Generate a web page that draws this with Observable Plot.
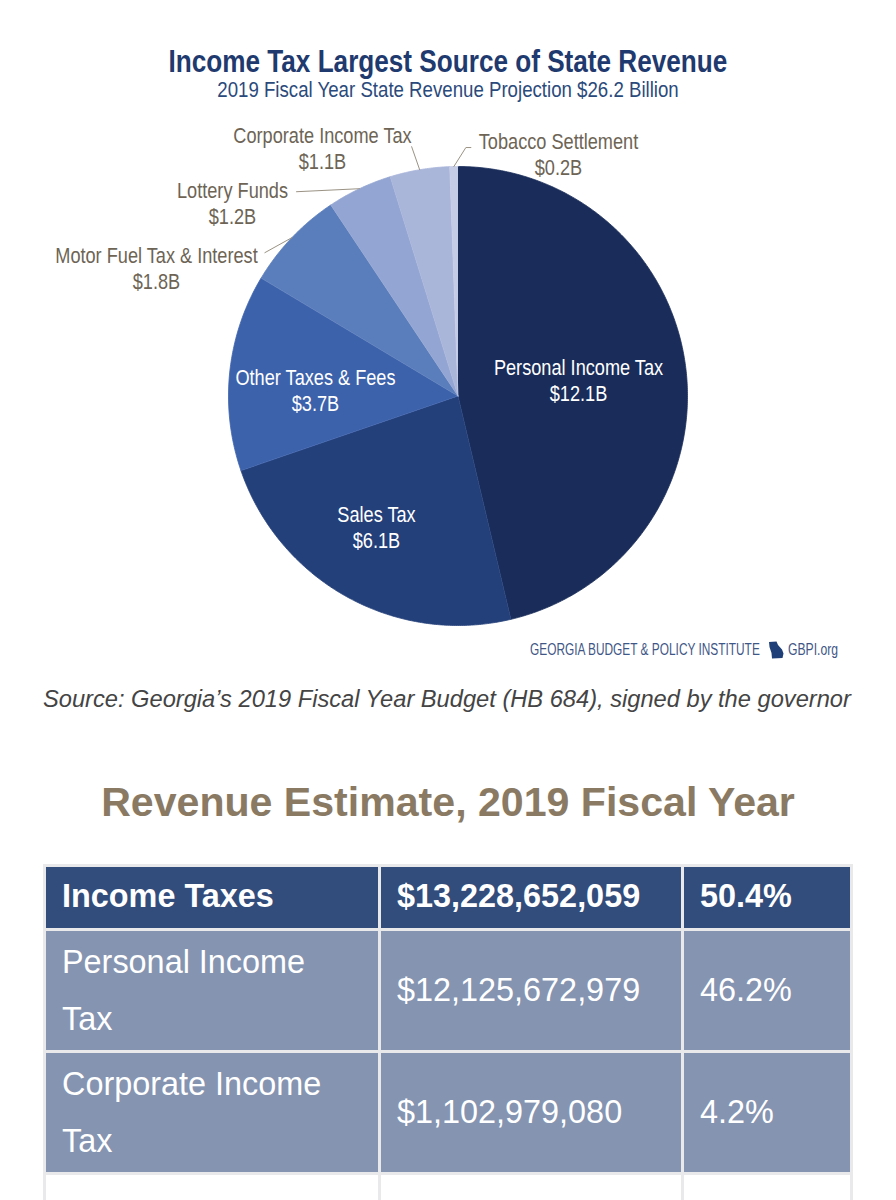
<!DOCTYPE html>
<html><head><meta charset="utf-8">
<script src="https://cdn.jsdelivr.net/npm/d3@7"></script>
<script src="https://cdn.jsdelivr.net/npm/@observablehq/plot@0.6"></script>
<style>
html,body{margin:0;padding:0;background:#fff;width:896px;height:1200px;overflow:hidden}
body{position:relative;font-family:"Liberation Sans",Arial,sans-serif}
.abs{position:absolute;white-space:nowrap}
#title{left:0;width:896px;top:42px;text-align:center;font-weight:700;font-size:32px;line-height:38px;color:#1f3a6e;transform:scaleX(.817);transform-origin:447.5px 50%}
#subtitle{left:0;width:896px;top:77px;text-align:center;font-size:22.5px;line-height:26px;color:#2b4a7c;transform:scaleX(.829);transform-origin:448px 50%}
#chart{position:absolute;left:0;top:105px}
#credit{left:530px;top:640px;font-size:16px;line-height:20px;color:#3f5787;transform:scaleX(.742);transform-origin:0 50%}
#credit2{left:788px;top:640px;font-size:16px;line-height:20px;color:#3f5787;transform:scaleX(.76);transform-origin:0 50%}
#state{position:absolute;left:768px;top:641px}
#source{left:43px;top:685px;font-style:italic;font-size:23.66px;line-height:28px;color:#444}
#heading{left:0;width:896px;top:778px;text-align:center;font-weight:700;font-size:41.1px;line-height:48px;color:#8a7a63}
table{position:absolute;left:43px;top:864px;width:807px;border-collapse:collapse;table-layout:fixed;color:#fff;font-size:32.4px;line-height:56px}
td{border:3px solid #e9e9ec;padding:0 0 0 16px;vertical-align:middle;background:#8594b1;white-space:nowrap}
tr.head td{background:#324d7c;font-weight:700;height:61px;line-height:36px;padding-bottom:0}
tr.head td span{position:relative;top:-2px}
tr.item td{height:119px;line-height:56.5px}
tr.blank td{background:#fff;height:60px}
</style></head><body>
<div id="title" class="abs">Income Tax Largest Source of State Revenue</div>
<div id="subtitle" class="abs">2019 Fiscal Year State Revenue Projection $26.2 Billion</div>
<div id="chart"></div>
<div id="credit" class="abs">GEORGIA BUDGET &amp; POLICY INSTITUTE</div>
<svg id="state" width="16" height="18" viewBox="0 0 16 18"><path d="M1 1 L8.5 .5 L10 4 L14 8.5 L15.5 12.5 L14.5 17 L4 17.5 L3.5 12 L1.5 6 Z" fill="#1f3f78"/></svg>
<div id="credit2" class="abs">GBPI.org</div>
<div id="source" class="abs">Source: Georgia’s 2019 Fiscal Year Budget (HB 684), signed by the governor</div>
<div id="heading" class="abs">Revenue Estimate, 2019 Fiscal Year</div>
<table id="tbl"><colgroup><col style="width:335px"><col style="width:303px"><col style="width:169px"></colgroup><tbody></tbody></table>
<script>
// Chart data (slice sizes; labels as printed)
const sources = ["Personal Income Tax","Sales Tax","Other Taxes & Fees","Motor Fuel Tax & Interest","Lottery Funds","Corporate Income Tax","Tobacco Settlement"];
const billions = [12.13,6.14,3.63,1.85,1.2,1.1,0.15];
const printed = ["$12.1B","$6.1B","$3.7B","$1.8B","$1.2B","$1.1B","$0.2B"];
const sliceColors = ["#1a2d5a","#24407a","#3d62ac","#5a7dbb","#93a5d2","#aab5da","#c5cce6"];

// Table data
const rowNames = ["Income Taxes","Personal Income<br>Tax","Corporate Income<br>Tax"];
const rowAmounts = ["$13,228,652,059","$12,125,672,979","$1,102,979,080"];
const rowShares = ["50.4%","46.2%","4.2%"];

// Layout (pixels, relative to the pie centre / a slice's rim midpoint)
const W = 896, H = 540, R = 229.5, CX = 457.5, CY = 290.5;
const labelOffsets = {
  "Personal Income Tax":[120.5,-16.5],
  "Sales Tax":[-81.5,131],
  "Other Taxes & Fees":[-142.5,-6.5],
  "Motor Fuel Tax & Interest":[-301.5,-128.5],
  "Lottery Funds":[-225.5,-193.5],
  "Corporate Income Tax":[-135.5,-248.5],
  "Tobacco Settlement":[100.5,-242.5]
};
const leaders = {
  "Motor Fuel Tax & Interest":[[-27,15]],
  "Lottery Funds":[[-63,3]],
  "Corporate Income Tax":[[-8,-23]],
  "Tobacco Settlement":[[12,-19],[17,-19]]
};

const arcs = d3.pie().sort(null).value((d,i)=>billions[i])(sources);
const slicePoints = arcs.flatMap(a=>{
  const name = a.data;
  const pts = [{name,x:0,y:0}];
  const steps = Math.max(2,Math.ceil((a.endAngle-a.startAngle)/(Math.PI/360)));
  for(let i=0;i<=steps;i++){
    const t = a.startAngle+(a.endAngle-a.startAngle)*i/steps;
    pts.push({name,x:Math.sin(t),y:Math.cos(t)});
  }
  return pts;
});
const rim = Object.fromEntries(arcs.map(a=>{
  const t=(a.startAngle+a.endAngle)/2;
  return [a.data,{x:Math.sin(t),y:Math.cos(t)}];
}));
const leaderPoints = Object.entries(leaders).flatMap(([name,off])=>[
  {name,x:rim[name].x,y:rim[name].y},
  ...off.map(([dx,dy])=>({name,x:rim[name].x+dx/R,y:rim[name].y-dy/R}))
]);
const labels = sources.map((name,i)=>({
  name,
  text:`${name}\n${printed[i]}`,
  x:labelOffsets[name][0]/R,
  y:-labelOffsets[name][1]/R,
  inside:i<3
}));

const chart = Plot.plot({
  width:W,height:H,margin:0,
  style:{background:"transparent",fontFamily:'"Liberation Sans",sans-serif'},
  x:{domain:[-CX/R,(W-CX)/R],range:[0,W],axis:null},
  y:{domain:[-(H-CY)/R,CY/R],range:[H,0],axis:null},
  color:{domain:sources,range:sliceColors},
  marks:[
    Plot.line(slicePoints,{x:"x",y:"y",z:"name",fill:"name",stroke:"name",strokeWidth:.8}),
    Plot.line(leaderPoints,{x:"x",y:"y",z:"name",stroke:"#9a9284",strokeWidth:1}),
    Plot.text(labels.filter(d=>d.inside),{x:"x",y:"y",text:"text",fill:"#fff",fontSize:22,lineHeight:1.165,textAnchor:"middle"}),
    Plot.text(labels.filter(d=>!d.inside),{x:"x",y:"y",text:"text",fill:"#6d6455",fontSize:22,lineHeight:1.165,textAnchor:"middle"})
  ]
});
// The reference's labels are set in a condensed face: narrow the installed one.
d3.select(chart).selectAll("text").attr("transform",function(){return this.getAttribute("transform")+" scale(.826,1)";});
document.getElementById("chart").append(chart);

const tbody = d3.select("#tbl tbody");
rowNames.forEach((n,i)=>{
  const tr = tbody.append("tr").attr("class",i===0?"head":"item");
  tr.append("td").append("span").html(n); tr.append("td").append("span").text(rowAmounts[i]); tr.append("td").append("span").text(rowShares[i]);
});
const blank = tbody.append("tr").attr("class","blank");
for(let i=0;i<3;i++) blank.append("td");
</script>
</body></html>
